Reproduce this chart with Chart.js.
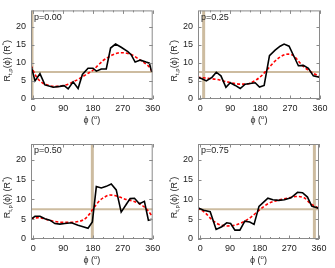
<!DOCTYPE html>
<html>
<head>
<meta charset="utf-8">
<script src="https://cdn.jsdelivr.net/npm/chart.js@4.4.0/dist/chart.umd.min.js"></script>
<style>
  html, body { margin: 0; padding: 0; background: #fff; }
  #wrap { position: relative; width: 335px; height: 268px; }
  .panel { position: absolute; left: 0; top: 0; width: 335px; height: 268px; }
</style>
</head>
<body>
<div id="wrap">
  <div class="panel"><canvas id="c1"></canvas></div>
  <div class="panel"><canvas id="c2"></canvas></div>
  <div class="panel"><canvas id="c3"></canvas></div>
  <div class="panel"><canvas id="c4"></canvas></div>
</div>
<script>
// tick labels
var xTickValues = [0, 90, 180, 270, 360];
var yTickValues = [0, 5, 10, 15, 20];
var pLabels = ["p=0.00", "p=0.25", "p=0.50", "p=0.75"];

// tan marker lines
var markerPhi = [-4, 10, 178, 346];
var markerR = 7.5;

// p=0.00
var phiData1 = [-7, 5, 20, 35, 60, 80, 93, 105, 120, 135, 148, 165, 180, 190, 205, 220, 233, 248, 265, 285, 295, 307, 323, 340, 350, 357];
var rData1 = [9.3, 5.0, 7.0, 3.9, 3.25, 3.5, 3.7, 2.8, 4.75, 2.9, 6.8, 8.5, 8.5, 7.7, 8.3, 8.3, 14.1, 15.2, 14.3, 13.1, 12.25, 10.2, 10.75, 10.2, 9.9, 7.5];
var phiFit1 = [-7, 0, 10, 20, 30, 45, 60, 75, 90, 105, 120, 135, 150, 165, 180, 195, 210, 225, 240, 255, 270, 285, 300, 315, 330, 345, 352, 358];
var rFit1 = [9.3, 7.8, 6.0, 5.0, 4.3, 3.8, 3.5, 3.5, 3.7, 4.1, 4.75, 5.4, 6.25, 7.1, 8.0, 9.3, 10.6, 11.5, 12.25, 12.7, 12.8, 12.6, 12.1, 11.2, 10.3, 9.3, 8.6, 7.5];

// p=0.25
var phiData2 = [-8, 5, 18, 35, 48, 62, 77, 90, 105, 120, 135, 150, 165, 178, 192, 208, 225, 240, 252, 267, 280, 295, 310, 325, 340, 358];
var rData2 = [6.0, 5.6, 5.0, 6.0, 7.4, 6.4, 3.25, 4.5, 3.75, 2.9, 4.1, 4.3, 4.5, 3.3, 3.75, 12.0, 13.5, 14.6, 15.2, 14.6, 12.1, 9.2, 9.3, 8.5, 6.4, 6.0];
var phiFit2 = [-8, 0, 20, 50, 80, 110, 130, 150, 170, 185, 195, 210, 225, 240, 255, 265, 280, 295, 310, 325, 340, 358];
var rFit2 = [6.0, 5.95, 5.75, 5.4, 4.75, 4.2, 4.1, 4.4, 5.4, 6.5, 7.5, 9.0, 10.5, 11.6, 12.3, 12.4, 12.0, 10.5, 9.0, 8.0, 7.1, 6.25];

// p=0.50
var phiData3 = [-7, 5, 20, 35, 50, 65, 80, 95, 115, 135, 150, 165, 178, 190, 205, 220, 235, 250, 265, 280, 292, 305, 320, 335, 347, 357];
var rData3 = [5.0, 5.75, 5.75, 5.1, 4.75, 3.9, 3.75, 3.9, 4.1, 3.5, 3.1, 2.7, 4.3, 13.25, 12.9, 13.3, 13.9, 12.4, 6.8, 8.7, 10.2, 10.3, 8.9, 9.5, 4.75, 5.0];
var phiFit3 = [-7, 0, 15, 30, 45, 75, 105, 135, 150, 160, 170, 180, 190, 200, 215, 230, 245, 260, 280, 300, 320, 340, 357];
var rFit3 = [5.0, 5.2, 5.4, 5.2, 4.8, 4.3, 4.2, 4.4, 4.8, 5.4, 6.4, 7.6, 8.7, 9.7, 10.6, 11.1, 11.0, 10.6, 10.0, 9.6, 8.9, 7.7, 6.0];

// p=0.75
var phiData4 = [-8, 10, 30, 48, 65, 80, 92, 105, 120, 135, 150, 163, 178, 192, 205, 220, 238, 255, 275, 295, 310, 325, 338, 358];
var rData4 = [7.9, 7.25, 6.9, 2.4, 3.1, 4.1, 3.9, 2.25, 2.25, 4.5, 4.3, 3.7, 8.25, 9.3, 10.3, 9.9, 9.75, 9.9, 10.4, 11.8, 11.7, 10.6, 8.3, 7.8];
var phiFit4 = [-8, 15, 35, 55, 80, 105, 130, 155, 178, 205, 240, 270, 290, 315, 335, 358];
var rFit4 = [7.9, 6.6, 4.9, 3.75, 3.3, 3.5, 4.3, 5.6, 7.25, 8.9, 9.9, 10.4, 10.75, 10.4, 8.9, 7.8];

var fontFamily = "'Liberation Sans', Arial, sans-serif";
var tickFont = "9px " + fontFamily;
var smallFont = "6px " + fontFamily;
var tan = 'rgb(205, 188, 160)';
var borderGray = '#8a8a8a';
var Y_AXIS_W = 26;  // room for y tick labels
var X_AXIS_H = 15;  // room for x tick labels

function toPoints(xs, ys) {
    return xs.map((x, i) => ({ x: x, y: ys[i] }));
}

// draws the box, inward ticks, axis titles and the p label
function framePlugin(label) {
    return {
        id: 'frame',
        afterDraw(chart) {
            const ctx = chart.ctx;
            const a = chart.chartArea;
            const xs = chart.scales.x, ys = chart.scales.y;
            ctx.save();
            ctx.strokeStyle = borderGray;
            ctx.lineWidth = 1;
            ctx.strokeRect(a.left + 0.5, a.top + 0.5, a.width - 1, a.height - 1);
            ctx.beginPath();
            for (let v = 0; v <= 360; v += 30) {
                const px = Math.round(xs.getPixelForValue(v)) + 0.5;
                const len = (v % 90 === 0) ? 3.5 : 2;
                ctx.moveTo(px, a.bottom); ctx.lineTo(px, a.bottom - len);
                ctx.moveTo(px, a.top); ctx.lineTo(px, a.top + len);
            }
            yTickValues.forEach(v => {
                const py = Math.round(ys.getPixelForValue(v)) + 0.5;
                ctx.moveTo(a.left, py); ctx.lineTo(a.left + 3.5, py);
                ctx.moveTo(a.right, py); ctx.lineTo(a.right - 3.5, py);
            });
            ctx.stroke();

            ctx.fillStyle = '#222';
            ctx.font = tickFont;
            ctx.textBaseline = 'top';
            ctx.textAlign = 'left';
            ctx.fillText(label, a.left + 3, a.top + 2.5);

            // x title: phi (o)
            const cx = (a.left + a.right) / 2;
            const ty = a.bottom + 24;
            ctx.textBaseline = 'alphabetic';
            ctx.font = tickFont;
            const w1 = ctx.measureText('ϕ (').width;
            const w3 = ctx.measureText(')').width;
            ctx.font = smallFont;
            const w2 = ctx.measureText('o').width;
            let x0 = cx - (w1 + w2 + w3) / 2;
            ctx.font = tickFont;
            ctx.fillText('ϕ (', x0, ty);
            ctx.font = smallFont;
            ctx.fillText('o', x0 + w1, ty - 4);
            ctx.font = tickFont;
            ctx.fillText(')', x0 + w1 + w2, ty);

            // y title: R_{t,p}(phi) (R*)
            const parts = [
                { t: 'R', f: tickFont, dy: 0 },
                { t: 't,p', f: smallFont, dy: 2 },
                { t: '(ϕ) (R', f: tickFont, dy: 0 },
                { t: '*', f: smallFont, dy: -4 },
                { t: ')', f: tickFont, dy: 0 }
            ];
            let total = 0;
            parts.forEach(p => { ctx.font = p.f; p.w = ctx.measureText(p.t).width; total += p.w; });
            ctx.translate(a.left - 21, (a.top + a.bottom) / 2 + 6);
            ctx.rotate(-Math.PI / 2);
            let xx = -total / 2;
            parts.forEach(p => { ctx.font = p.f; ctx.fillText(p.t, xx, p.dy); xx += p.w; });
            ctx.restore();
        }
    };
}

function createPanel(canvasId, area, yMax, label, phiData, rData, phiFit, rFit, vline) {
    const ctx = document.getElementById(canvasId).getContext('2d');
    const config = {
        type: 'line',
        data: {
            datasets: [
                {
                    data: toPoints(phiData, rData),
                    borderColor: '#000',
                    borderWidth: 1.6,
                    pointRadius: 0,
                    tension: 0
                },
                {
                    data: toPoints(phiFit, rFit),
                    borderColor: 'rgb(255, 0, 0)',
                    borderWidth: 1.6,
                    borderDash: [3, 2],
                    pointRadius: 0,
                    cubicInterpolationMode: 'monotone'
                },
                {
                    data: [{ x: vline, y: 0 }, { x: vline, y: yMax }],
                    borderColor: tan,
                    borderWidth: 3,
                    pointRadius: 0
                },
                {
                    data: [{ x: -7, y: markerR }, { x: 360, y: markerR }],
                    borderColor: tan,
                    borderWidth: 2,
                    pointRadius: 0
                }
            ]
        },
        options: {
            responsive: true,
            maintainAspectRatio: false,
            animation: false,
            events: [],
            layout: {
                padding: {
                    left: area.left - Y_AXIS_W,
                    top: area.top,
                    right: 335 - area.right,
                    bottom: 268 - area.bottom - X_AXIS_H
                }
            },
            plugins: { legend: { display: false }, tooltip: { enabled: false } },
            scales: {
                x: {
                    type: 'linear',
                    min: -7,
                    max: 360,
                    grid: { display: false, drawTicks: false },
                    border: { display: false },
                    afterBuildTicks: (s) => { s.ticks = xTickValues.map(v => ({ value: v })); },
                    afterFit: (s) => { s.height = X_AXIS_H; },
                    ticks: { padding: 4, color: '#222', font: { family: fontFamily, size: 9 }, maxRotation: 0, autoSkip: false }
                },
                y: {
                    type: 'linear',
                    min: 0,
                    max: yMax,
                    grid: { display: false, drawTicks: false },
                    border: { display: false },
                    afterBuildTicks: (s) => { s.ticks = yTickValues.map(v => ({ value: v })); },
                    afterFit: (s) => { s.width = Y_AXIS_W; },
                    ticks: { padding: 5, color: '#222', font: { family: fontFamily, size: 9 }, autoSkip: false }
                }
            }
        },
        plugins: [framePlugin(label)]
    };
    return new Chart(ctx, config);
}

createPanel('c1', { left: 31, top: 1, right: 152.7, bottom: 99 }, 24.5, pLabels[0], phiData1, rData1, phiFit1, rFit1, markerPhi[0]);
createPanel('c2', { left: 198, top: 1, right: 320, bottom: 99 }, 24.5, pLabels[1], phiData2, rData2, phiFit2, rFit2, markerPhi[1]);
createPanel('c3', { left: 31, top: 144, right: 152.7, bottom: 239 }, 24, pLabels[2], phiData3, rData3, phiFit3, rFit3, markerPhi[2]);
createPanel('c4', { left: 198, top: 144, right: 319, bottom: 239 }, 24, pLabels[3], phiData4, rData4, phiFit4, rFit4, markerPhi[3]);
</script>
</body>
</html>
